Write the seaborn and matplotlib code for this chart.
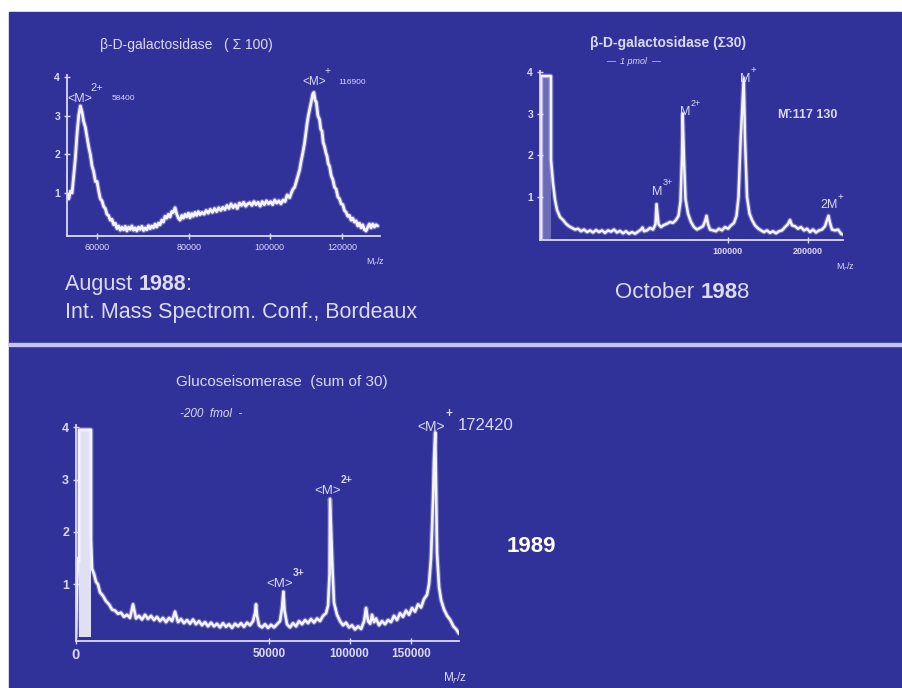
import matplotlib
matplotlib.use("Agg")
import matplotlib.pyplot as plt
import numpy as np
import seaborn as sns
from matplotlib.patches import Rectangle
from matplotlib.ticker import NullLocator

# ---- top left: beta-D-galactosidase (sum 100), Aug 1988 ----
tl_mz = [54020, 54340, 54660, 54980, 55290, 55620, 55960, 56280, 56600, 56920,
         57250, 57590, 57910, 58240, 58580, 58920, 59260, 59600, 59930, 60270,
         60600, 60940, 61280, 61620, 61960, 62300, 62650, 63000, 63350, 63690,
         64040, 64380, 64730, 65080, 65430, 65790, 66140, 66490, 66850, 67200,
         67550, 67910, 68270, 68640, 69000, 69360, 69730, 70090, 70450, 70820,
         71180, 71550, 71910, 72280, 72650, 73020, 73390, 73760, 74130, 74510,
         74900, 75270, 75650, 76030, 76400, 76790, 77180, 77560, 77940, 78330,
         78710, 79100, 79480, 79870, 80260, 80650, 81040, 81430, 81830, 82220,
         82610, 83100, 83590, 84080, 84580, 85090, 85600, 86110, 86620, 87130,
         87640, 88140, 88640, 89150, 89660, 90170, 90690, 91210, 91740, 92270,
         92800, 93320, 93850, 94370, 94890, 95420, 95950, 96480, 97010, 97550,
         98090, 98630, 99180, 99720, 100260, 100800, 101350, 101900, 102450, 103000,
         103550, 104100, 104650, 105320, 105770, 106220, 106680, 107130, 107580, 108030,
         108480, 108920, 109380, 109720, 110070, 110410, 110750, 111300, 111600, 111940,
         112270, 112600, 113050, 113510, 113850, 114200, 114550, 114910, 115260, 115610,
         115960, 116310, 116780, 117250, 117720, 118200, 118670, 119150, 119620, 120090,
         120570, 121060, 121530, 122010, 122480, 122960, 123450, 123950, 124430, 124910,
         125400, 125880, 126370, 126870, 127350, 127840, 128330, 128820, 129320, 129820,
         130310]
tl_int = [0.95, 0.85, 1.05, 1.0, 1.45, 1.9, 2.55, 3.0, 3.25, 3.1,
          2.85, 2.7, 2.45, 2.2, 2.0, 1.7, 1.55, 1.3, 1.3, 1.05,
          0.85, 0.8, 0.65, 0.6, 0.45, 0.42, 0.3, 0.32, 0.18, 0.22,
          0.08, 0.15, 0.04, 0.12, 0.05, 0.14, 0.02, 0.12, 0.06, 0.15,
          0.04, 0.1, 0.02, 0.12, 0.06, 0.14, 0.03, 0.1, 0.05, 0.16,
          0.08, 0.15, 0.1, 0.2, 0.12, 0.22, 0.18, 0.3, 0.25, 0.4,
          0.35, 0.45, 0.38, 0.52, 0.5, 0.62, 0.45, 0.35, 0.3, 0.42,
          0.35, 0.45, 0.38, 0.48, 0.36, 0.47, 0.4, 0.5, 0.42, 0.52,
          0.44, 0.5, 0.45, 0.55, 0.48, 0.58, 0.5, 0.6, 0.52, 0.62,
          0.55, 0.63, 0.57, 0.68, 0.6, 0.72, 0.62, 0.7, 0.6, 0.74,
          0.68, 0.76, 0.66, 0.72, 0.75, 0.68, 0.78, 0.7, 0.76, 0.66,
          0.78, 0.7, 0.8, 0.72, 0.78, 0.7, 0.82, 0.74, 0.8, 0.72,
          0.82, 0.78, 0.95, 0.88, 1.0, 1.1, 1.15, 1.3, 1.45, 1.6,
          1.85, 2.05, 2.3, 2.55, 2.8, 3.0, 3.15, 3.4, 3.55, 3.6,
          3.4, 3.35, 3.0, 2.9, 2.65, 2.6, 2.3, 2.2, 2.05, 1.95,
          1.75, 1.7, 1.45, 1.35, 1.15, 1.1, 0.9, 0.85, 0.72, 0.7,
          0.55, 0.5, 0.4, 0.42, 0.3, 0.35, 0.25, 0.28, 0.15, 0.22,
          0.1, 0.18, 0.05, 0.02, 0.12, 0.2, 0.1, 0.2, 0.12, 0.18,
          0.15]
tl_xticks = [60000, 80000, 100000, 120000]

# ---- top right: beta-D-galactosidase (sum 30), Oct 1988 ----
tr_mz = [103, 103, 703, 703, 888, 1094, 1321, 1702, 2133, 2609,
         3135, 3709, 4332, 5002, 5721, 6488, 7304, 8167, 9079, 10040,
         11047, 12104, 13209, 14362, 15563, 16813, 18111, 19457, 20851, 22294,
         23785, 25324, 26912, 28547, 30231, 31090, 31963, 33744, 35570, 37447,
         39050, 39700, 41010, 42690, 44740, 46840, 48990, 51190, 53440, 55350,
         56900, 58080, 58600, 59670, 60870, 62910, 65400, 67930, 70520, 73150,
         75830, 77650, 79020, 80410, 82280, 85120, 88010, 90940, 93930, 96970,
         100050, 103180, 106360, 109050, 111220, 113410, 117000, 118420, 120700, 123560,
         126450, 129960, 133520, 137140, 140800, 144530, 148290, 152090, 155950, 159850,
         163800, 167790, 171830, 174560, 177320, 181480, 185690, 189940, 194240, 198590,
         203000, 207460, 211960, 216500, 221100, 225730, 228860, 231200, 233560, 236760,
         241570, 246420, 251320, 254600]
tr_int = [0.0, 3.9, 3.9, 1.9, 1.33, 0.93, 0.69, 0.52, 0.45, 0.36,
          0.3, 0.26, 0.22, 0.24, 0.18, 0.22, 0.16, 0.2, 0.15, 0.21,
          0.16, 0.2, 0.14, 0.2, 0.17, 0.22, 0.15, 0.19, 0.13, 0.18,
          0.12, 0.16, 0.12, 0.17, 0.22, 0.27, 0.18, 0.2, 0.26, 0.22,
          0.35, 0.83, 0.35, 0.28, 0.33, 0.36, 0.4, 0.38, 0.45, 0.55,
          0.9, 2.0, 3.0, 1.9, 0.95, 0.6, 0.4, 0.28, 0.22, 0.26,
          0.3, 0.42, 0.55, 0.35, 0.22, 0.2, 0.18, 0.24, 0.2, 0.28,
          0.24, 0.32, 0.38, 0.55, 1.0, 2.3, 3.85, 2.4, 1.0, 0.6,
          0.45, 0.32, 0.25, 0.2, 0.16, 0.2, 0.14, 0.18, 0.13, 0.18,
          0.2, 0.28, 0.35, 0.45, 0.32, 0.3, 0.24, 0.28, 0.2, 0.24,
          0.16, 0.22, 0.15, 0.2, 0.22, 0.3, 0.45, 0.55, 0.38, 0.22,
          0.2, 0.22, 0.12, 0.1]
tr_box_mz = [103, 703]
tr_xticks = [100000, 200000]

# ---- bottom: glucose isomerase (sum of 30), 1989 ----
gi_mz = [0, 1, 5, 12, 12, 301, 301, 342, 433, 535,
         647, 770, 974, 1203, 1455, 1732, 2033, 2357, 2706, 3079,
         3476, 3897, 4342, 4811, 5305, 5822, 6363, 6928, 7518, 8131,
         8769, 9431, 10116, 10826, 11560, 12318, 13100, 13906, 14736, 15590,
         16467, 17370, 18296, 19246, 20220, 21219, 22240, 23287, 24357, 25452,
         26571, 27713, 28880, 30071, 31286, 32525, 33788, 35075, 36387, 37722,
         39082, 40465, 41872, 42820, 43304, 43790, 44760, 46240, 47744, 49272,
         50824, 52400, 54000, 55620, 56720, 57500, 58100, 59500, 61200, 62930,
         64680, 66460, 68260, 70090, 71940, 73810, 75710, 77630, 79580, 81550,
         83550, 84900, 85920, 86200, 87880, 88950, 91040, 93140, 95270, 97430,
         99610, 101800, 104000, 106300, 108600, 110900, 112400, 113950, 115600, 117100,
         118700, 120300, 122700, 125100, 127600, 130100, 132600, 135100, 137700, 140300,
         142900, 145500, 148200, 150900, 153600, 156300, 159100, 161800, 164600, 166500,
         168400, 170300, 171300, 172420, 173200, 174150, 176100, 178100, 181000, 184100,
         187200, 190300, 193300, 196000]
gi_int = [0.0, 0.8, 1.5, 1.45, 3.95, 3.95, 1.85, 1.3, 1.2, 1.05,
          1.0, 0.85, 0.78, 0.68, 0.62, 0.52, 0.5, 0.44, 0.46, 0.38,
          0.42, 0.36, 0.62, 0.35, 0.4, 0.33, 0.42, 0.34, 0.4, 0.32,
          0.38, 0.3, 0.36, 0.28, 0.36, 0.3, 0.48, 0.28, 0.34, 0.26,
          0.32, 0.25, 0.33, 0.24, 0.3, 0.22, 0.28, 0.2, 0.27, 0.2,
          0.25, 0.18, 0.26, 0.19, 0.24, 0.17, 0.25, 0.2, 0.26, 0.19,
          0.27, 0.22, 0.3, 0.45, 0.62, 0.4, 0.22, 0.18, 0.24, 0.17,
          0.23, 0.18, 0.24, 0.3, 0.55, 0.86, 0.5, 0.24, 0.18, 0.26,
          0.2, 0.3, 0.24, 0.32, 0.26, 0.34, 0.27, 0.35, 0.3, 0.4,
          0.45, 0.6, 1.2, 2.63, 1.3, 0.65, 0.42, 0.3, 0.22, 0.27,
          0.18, 0.22, 0.14, 0.2, 0.15, 0.3, 0.55, 0.3, 0.25, 0.42,
          0.28, 0.35, 0.22, 0.3, 0.24, 0.32, 0.28, 0.4, 0.32, 0.45,
          0.38, 0.5, 0.42, 0.55, 0.48, 0.62, 0.56, 0.72, 0.8, 1.0,
          1.5, 2.6, 3.4, 3.9, 2.8, 1.6, 0.95, 0.7, 0.52, 0.4,
          0.32, 0.2, 0.14, 0.06]
gi_box_mz = [12, 301]
gi_xticks = [0, 50000, 100000, 150000]

BLUE = "#31319a"
INK = "#f4f4ff"
LAV = "#dadaf6"
CAP = "#dcdcf6"
W, H = 902, 688

sns.set_style("ticks")
plt.rcParams["font.family"] = ["Liberation Sans", "DejaVu Sans"]

fig = plt.figure(figsize=(W / 100, H / 100), dpi=100, facecolor="white")
fig.patches.append(Rectangle((9 / W, 0), 1 - 10 / W, (H - 12) / H,
                             transform=fig.transFigure, color=BLUE, zorder=-10))
fig.patches.append(Rectangle((9 / W, (H - 346) / H), 1 - 9 / W, 3.5 / H,
                             transform=fig.transFigure, color="#c4c4ee", zorder=-5))


def px_axes(l, t, r, b):
    return fig.add_axes([l / W, (H - b) / H, (r - l) / W, (b - t) / H])


def ftext(x, y, s, size, **kw):
    kw.setdefault("color", LAV)
    kw.setdefault("va", "center")
    return fig.text(x / W, 1 - y / H, s, fontsize=size, **kw)


def sqrt_fwd(v):
    return np.sqrt(np.clip(v, 0, None))


def sqrt_inv(v):
    return np.square(v)


def spectrum(ax, mz, inten, xlim, ylim, xticks, xfs, yfs, lw, tick_weight="normal"):
    # soft halo under the trace to mimic the fuzzy scanned line
    sns.lineplot(x=mz, y=inten, ax=ax, color=INK, lw=lw + 1.6, alpha=0.3,
                 sort=False, estimator=None)
    sns.lineplot(x=mz, y=inten, ax=ax, color=INK, lw=lw, sort=False, estimator=None)
    ax.set_facecolor("none")
    ax.set_xscale("function", functions=(sqrt_fwd, sqrt_inv))
    ax.set_xlim(*xlim)
    ax.set_ylim(*ylim)
    sns.despine(ax=ax)
    for s in ["left", "bottom"]:
        ax.spines[s].set_color(LAV)
        ax.spines[s].set_linewidth(1.3)
    ax.set_xticks(xticks)
    ax.set_xticklabels([str(t) for t in xticks], fontweight=tick_weight)
    ax.xaxis.set_minor_locator(NullLocator())
    ax.set_yticks([1, 2, 3, 4])
    ax.set_yticklabels(["1", "2", "3", "4"], fontweight="bold")
    ax.tick_params(colors=LAV, direction="inout", length=4, width=1)
    ax.tick_params(axis="x", labelsize=xfs, pad=3)
    ax.tick_params(axis="y", labelsize=yfs, pad=3)
    ax.set_xlabel("")
    ax.set_ylabel("")


# top left
ax1 = px_axes(67, 75, 380, 236)
spectrum(ax1, tl_mz, tl_int, (54000, 131000), (-0.11, 4.05), tl_xticks, 6.5, 7.5, 2.0)
ftext(100, 45, "β-D-galactosidase   ( Σ 100)", 10, ha="left")
ftext(67, 99, "<M>", 9, ha="left")
ftext(90, 88, "2+", 8, ha="left")
ftext(112, 99, "58400", 6, ha="left")
ftext(302, 82, "<M>", 8.5, ha="left")
ftext(325, 71, "+", 7.5, ha="left")
ftext(338, 82, "116900", 6, ha="left")
ftext(366, 262, "M$_r$/z", 6.5, ha="left")

# top right
ax2 = px_axes(540, 71, 843, 240)
ax2.fill_between(tr_box_mz, 0, 3.9, color=INK, alpha=0.3, lw=0)
spectrum(ax2, tr_mz, tr_int, (72, 254600), (-0.03, 4.02), tr_xticks, 6.5, 7.5, 1.8, "bold")
ftext(668, 43, "β-D-galactosidase (Σ30)", 10, ha="center", fontweight="bold")
ftext(634, 62, "—  1 pmol  —", 6.5, ha="center", style="italic")
ftext(740, 79, "M", 9, ha="left")
ftext(751, 70, "+", 7, ha="left")
ftext(680, 112, "M", 9, ha="left")
ftext(691, 103, "2+", 6.5, ha="left")
ftext(652, 192, "M", 9, ha="left")
ftext(663, 183, "3+", 6.5, ha="left")
ftext(778, 115, "M\u0304:117 130", 9, ha="left", fontweight="bold")
ftext(820, 205, "2M", 9, ha="left")
ftext(838, 197, "+", 7, ha="left")
ftext(836, 267, "M$_r$/z", 6.5, ha="left")

# bottom
ax3 = px_axes(76, 425, 459, 641)
ax3.fill_between(gi_box_mz, 0, 3.95, color=INK, alpha=0.9, lw=0)
spectrum(ax3, gi_mz, gi_int, (0, 196000), (-0.08, 4.04), gi_xticks, 8.5, 9, 1.9, "bold")
ax3.get_xticklabels()[0].set_fontsize(10.5)
ftext(176, 382, "Glucoseisomerase  (sum of 30)", 11, ha="left")
ftext(180, 414, "-200  fmol  -", 8.5, ha="left", style="italic")
ftext(417, 427, "<M>", 10, ha="left")
ftext(446, 414, "+", 8.5, ha="left", fontweight="bold")
ftext(458, 426, "172420", 12, ha="left")
ftext(314, 491, "<M>", 9.5, ha="left")
ftext(341, 480, "2+", 7.5, ha="left", fontweight="bold")
ftext(266, 584, "<M>", 9.5, ha="left")
ftext(293, 573, "3+", 7.5, ha="left", fontweight="bold")
ftext(443, 678, "M$_r$/z", 8.5, ha="left")
ftext(507, 547, "1989", 16, ha="left", fontweight="bold", color="white")

# captions with mixed weights
renderer = fig.canvas.get_renderer()


def rich(x, y, parts, size):
    for s, w in parts:
        t = ftext(x, y, s, size, ha="left", va="baseline", fontweight=w, color=CAP)
        x += t.get_window_extent(renderer).width


rich(65, 290, [("August ", "normal"), ("1988", "bold"), (":", "normal")], 15.5)
rich(65, 318, [("Int. Mass Spectrom. Conf., Bordeaux", "normal")], 15.5)
rich(615, 298, [("October ", "normal"), ("198", "bold"), ("8", "normal")], 16)

fig.savefig("out.png", dpi=100, facecolor="white")
